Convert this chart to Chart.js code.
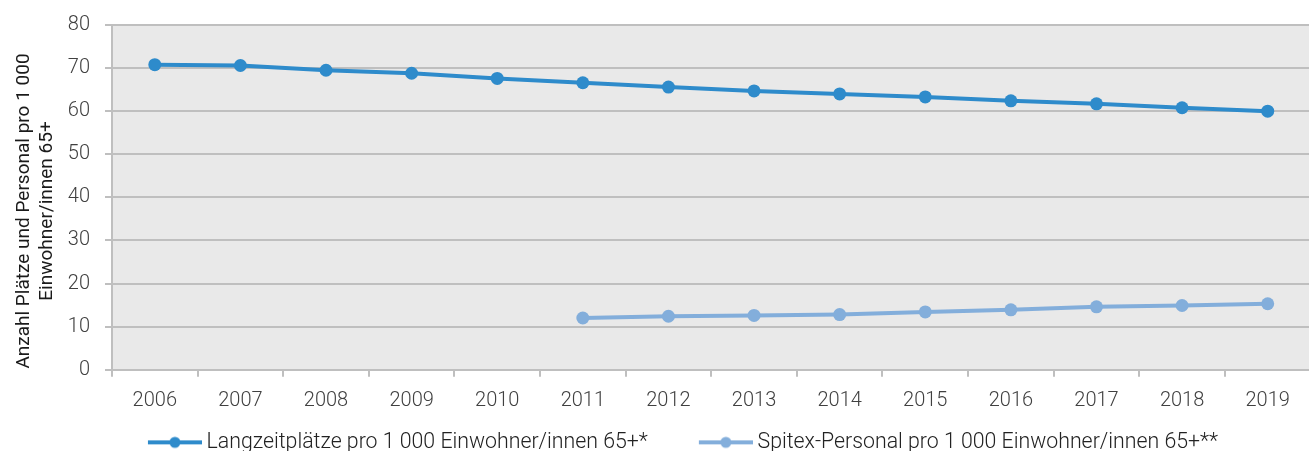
<!DOCTYPE html>
<html>
<head>
<meta charset="utf-8">
<script src="https://cdn.jsdelivr.net/npm/chart.js@4.4.1/dist/chart.umd.min.js"></script>
<style>
  html, body { margin: 0; padding: 0; overflow: hidden; background: #fff; }
  #chart { position: absolute; left: 0; top: -2px; }
</style>
</head>
<body>
<canvas id="chart" width="1317" height="465"></canvas>
<script>
// Daten
var jahre = ['2006', '2007', '2008', '2009', '2010', '2011', '2012', '2013', '2014', '2015', '2016', '2017', '2018', '2019'];
var langzeitplaetze = [70.8, 70.6, 69.5, 68.8, 67.6, 66.6, 65.6, 64.7, 64.0, 63.3, 62.4, 61.7, 60.8, 60.0];
var spitexPersonal = [null, null, null, null, null, 12.0, 12.4, 12.6, 12.8, 13.4, 13.9, 14.6, 14.9, 15.3];
var yMin = 0, yMax = 80, yStep = 10;
var yTitel = ['Anzahl Plätze und Personal pro 1 000', 'Einwohner/innen 65+'];
var serienNamen = ['Langzeitplätze pro 1 000 Einwohner/innen 65+*', 'Spitex-Personal pro 1 000 Einwohner/innen 65+**'];

var blau = '#2e8bcb';
var hellblau = '#83aedb';
var grau = '#bfbfbf';
var schrift = '#404040';

// Legendensymbol: Linie mit Punkt, links transparenter Rand als Abstand
function legendenSymbol(farbe) {
  var c = document.createElement('canvas');
  c.width = 105; c.height = 14;
  var g = c.getContext('2d');
  g.strokeStyle = farbe;
  g.lineWidth = 4;
  g.beginPath(); g.moveTo(51, 7); g.lineTo(105, 7); g.stroke();
  g.fillStyle = farbe;
  g.beginPath(); g.arc(78, 7, 5.5, 0, Math.PI * 2); g.fill();
  return c;
}
var symbole = [legendenSymbol(blau), legendenSymbol(hellblau)];

// grauer Hintergrund der Zeichenfläche
var hintergrund = {
  id: 'hintergrund',
  beforeDraw: function(chart) {
    var a = chart.chartArea, ctx = chart.ctx;
    ctx.save();
    ctx.fillStyle = '#e9e9e9';
    ctx.fillRect(a.left, a.top, a.right - a.left, a.bottom - a.top);
    ctx.restore();
  }
};

// zweizeiliger Achsentitel links
var achsenTitel = {
  id: 'achsenTitel',
  afterDraw: function(chart) {
    var ctx = chart.ctx;
    ctx.save();
    ctx.translate(36, 213);
    ctx.rotate(-Math.PI / 2);
    ctx.font = '19px Roboto';
    ctx.fillStyle = '#1a1a1a';
    ctx.textAlign = 'center';
    ctx.textBaseline = 'middle';
    ctx.fillText(yTitel[0], 0, -11.5);
    ctx.fillText(yTitel[1], 0, 11.5);
    ctx.restore();
  }
};

new Chart(document.getElementById('chart'), {
  type: 'line',
  data: {
    labels: jahre,
    datasets: [{
      label: serienNamen[0],
      data: langzeitplaetze,
      borderColor: blau,
      backgroundColor: blau,
      borderWidth: 4,
      pointRadius: 6.5,
      pointBorderWidth: 0,
      tension: 0
    }, {
      label: serienNamen[1],
      data: spitexPersonal,
      borderColor: hellblau,
      backgroundColor: hellblau,
      borderWidth: 4,
      pointRadius: 6.5,
      pointBorderWidth: 0,
      tension: 0
    }]
  },
  options: {
    responsive: false,
    animation: false,
    devicePixelRatio: 1,
    layout: { padding: { left: 4, top: 5.5, right: 0, bottom: 0 } },
    scales: {
      x: {
        offset: true,
        grid: { offset: true, drawOnChartArea: false, color: grau, lineWidth: 2, tickLength: 7 },
        border: { color: grau, width: 2 },
        ticks: { color: schrift, font: { family: 'Roboto', size: 20, weight: '300' }, padding: 12.5, maxRotation: 0 }
      },
      y: {
        min: yMin,
        max: yMax,
        grid: { color: grau, lineWidth: 2, tickLength: 7 },
        border: { color: grau, width: 2 },
        ticks: { stepSize: yStep, color: schrift, font: { family: 'Roboto', size: 20, weight: '300' }, padding: 15 },
        afterFit: function(scale) { scale.width = 108; }
      }
    },
    plugins: {
      tooltip: { enabled: false },
      legend: {
        position: 'bottom',
        labels: {
          usePointStyle: true,
          pointStyleWidth: 93,
          padding: 6,
          color: '#222',
          font: { family: 'Roboto', size: 21.3, weight: '300' },
          generateLabels: function(chart) {
            var items = Chart.defaults.plugins.legend.labels.generateLabels(chart);
            items.forEach(function(it, i) { it.pointStyle = symbole[i]; });
            return items;
          }
        }
      }
    }
  },
  plugins: [hintergrund, achsenTitel]
});
</script>
</body>
</html>
